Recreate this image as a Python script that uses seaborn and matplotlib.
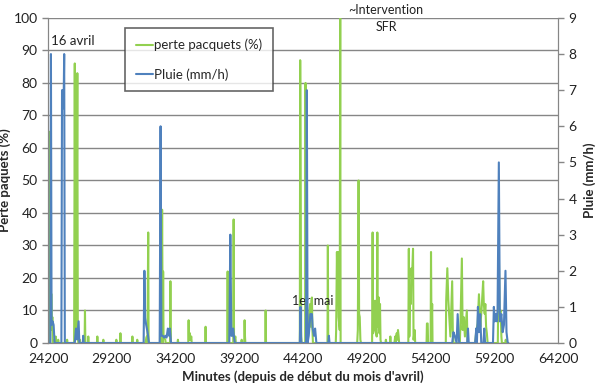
import pandas as pd
import matplotlib
matplotlib.use("Agg")
import matplotlib.pyplot as plt
import seaborn as sns

# --- données ---
perte_minutes = [
    24200, 24230, 24260, 24290, 24320, 24480, 24510, 24540, 24570, 24700, 24740,
    24770, 24800, 24830, 24970, 25000, 25030, 25670, 25700, 25730, 26250, 26300,
    26340, 26380, 26420, 26500, 26540, 26580, 26670, 26700, 26730, 27070, 27100,
    27130, 27330, 27360, 27390, 28040, 28070, 28100, 28510, 28540, 28570, 29530,
    29560, 29590, 29850, 29880, 29910, 30790, 30820, 30850, 31170, 31200, 31230,
    31850, 31880, 31950, 32000, 32060, 32090, 32980, 33050, 33100, 33150, 33200,
    33230, 33260, 33400, 33430, 33770, 33800, 33830, 34360, 34390, 34420, 35200,
    35230, 35260, 35330, 35360, 35440, 35470, 36530, 36560, 36590, 38260, 38290,
    38320, 38730, 38760, 38790, 38900, 38930, 39360, 39390, 39420, 39590, 39620,
    39650, 39680, 41240, 41270, 41300, 43950, 43980, 44020, 44060, 44100, 44380,
    44400, 44430, 44570, 44600, 44700, 44760, 44800, 44860, 44900, 44940, 44980,
    46120, 46150, 46180, 46770, 46800, 46860, 46900, 46950, 46990, 47080, 47120,
    47150, 48450, 48500, 48560, 48600, 48650, 48700, 48750, 49620, 49660, 49700,
    49780, 49850, 49900, 49980, 50030, 50070, 50150, 50200, 50240, 50280, 50320,
    50670, 50700, 50740, 51020, 51050, 51080, 51370, 51400, 51430, 51460, 51550,
    51600, 51650, 51700, 51740, 52460, 52500, 52540, 52600, 52660, 52700, 52750,
    52830, 52870, 52960, 53000, 53890, 53920, 53980, 54010, 54210, 54240, 54280,
    54330, 54360, 55400, 55430, 55520, 55600, 55700, 55760, 55900, 55950, 56000,
    56500, 56550, 56660, 56720, 56800, 56900, 57050, 57100, 57700, 57800, 57900,
    58000, 58100, 58200, 58330, 58380, 58450, 58500, 58560, 58620, 58680, 59480,
    59520, 59570, 59620, 59700, 59760, 59800, 60070, 60100, 60140, 60300,
]
perte_pct = [
    0, 36, 0, 65, 2, 15, 4, 8, 0, 1, 0,
    0, 2, 0, 0, 1, 0, 0, 1, 0, 0, 86,
    17, 12, 4, 83, 2, 0, 0, 1, 0, 0, 10,
    0, 0, 2, 0, 0, 2, 0, 0, 1, 0, 0,
    1, 0, 0, 3, 0, 0, 2, 0, 0, 1, 0,
    0, 1, 2, 0, 34, 0, 0, 37, 0, 41, 0,
    22, 2, 1, 0, 0, 19, 0, 0, 1, 0, 0,
    7, 1, 3, 1, 2, 0, 0, 5, 0, 0, 22,
    0, 0, 38, 1, 2, 0, 0, 1, 0, 0, 7,
    2, 0, 0, 10, 0, 0, 87, 42, 2, 0, 0,
    80, 0, 0, 3, 10, 12, 5, 13, 14, 4, 0,
    0, 30, 0, 0, 4, 28, 17, 28, 8, 4, 100,
    0, 0, 4, 50, 9, 8, 1, 0, 0, 34, 3,
    5, 13, 4, 2, 34, 5, 14, 3, 12, 1, 0,
    0, 1, 0, 0, 2, 0, 0, 1, 2, 0, 3,
    1, 4, 2, 0, 0, 29, 2, 17, 12, 23, 20,
    29, 1, 4, 0, 0, 6, 6, 0, 0, 28, 3,
    12, 0, 0, 13, 23, 13, 6, 2, 19, 4, 0,
    0, 6, 26, 4, 8, 2, 10, 0, 0, 4, 6,
    15, 5, 10, 19, 12, 9, 12, 5, 3, 0, 0,
    18, 25, 9, 10, 2, 0, 0, 1, 0, 0,
]

pluie_minutes = [
    24200, 24380, 24430, 24480, 24560, 24640, 24720, 25250, 25300, 25360, 25420,
    25470, 25520, 26300, 26400, 26480, 26600, 26660, 26930, 26960, 27000, 31700,
    31760, 31820, 31900, 31980, 32050, 32120, 32960, 33030, 33090, 33200, 33300,
    33400, 33500, 33600, 33700, 33760, 33850, 38420, 38500, 38580, 38650, 38720,
    38780, 38850, 43950, 44000, 44060, 44440, 44500, 44560, 44650, 44780, 44900,
    44960, 45060, 45150, 45250, 46180, 46230, 46280, 55900, 56000, 56100, 56250,
    56330, 56450, 57080, 57140, 57200, 57700, 57790, 57840, 57920, 58000, 58100,
    58180, 58350, 58420, 58480, 59100, 59170, 59240, 59330, 59400, 59460, 59560,
    59640, 59760, 59860, 59960, 60080, 60160, 60260, 60300,
]
pluie_mmh = [
    0, 0, 8.0, 0.5, 0.6, 0.5, 0, 0, 7.0, 7.0, 6.5,
    8.0, 0, 0, 0.4, 0.1, 0.6, 0, 0, 0.2, 0, 0,
    2.0, 0.7, 0.5, 0.35, 0.2, 0, 0, 6.0, 0.2, 0.2, 0.15,
    0.2, 0.15, 0.4, 0.2, 0.4, 0, 0, 3.0, 0.2, 0.2, 0.4,
    0.2, 0, 0, 1.0, 0, 0, 7.0, 0, 0.2, 0.8, 0.8,
    0.4, 0.2, 0.4, 0, 0, 0.2, 0, 0, 0.3, 0.2, 0,
    0.8, 0, 0, 0.4, 0, 0, 0.4, 0, 1.0, 0.3, 0.8,
    0, 0, 0.4, 0, 0, 1.0, 0.6, 0.8, 0.6, 0.9, 5.0,
    0.6, 0.8, 0.3, 0.5, 2.0, 0.3, 0, 0,
]

x_ticks = list(range(24200, 64201, 5000))

df_perte = pd.DataFrame({"minutes": perte_minutes, "perte": perte_pct})
df_pluie = pd.DataFrame({"minutes": pluie_minutes, "pluie": pluie_mmh})

sns.set_style("white")
plt.rcParams["font.family"] = ["Lato", "DejaVu Sans"]

vert = "#92d050"
bleu = "#4f81bd"
gris = "#868686"
texte = "#222222"

fig = plt.figure(figsize=(6, 3.9), dpi=100)
ax = fig.add_axes([0.08, 0.1205, 0.85, 0.8335])
ax2 = ax.twinx()

sns.lineplot(data=df_perte, x="minutes", y="perte", ax=ax, color=vert,
             linewidth=1.5, estimator=None, label="perte pacquets (%)", legend=False)
sns.lineplot(data=df_pluie, x="minutes", y="pluie", ax=ax2, color=bleu,
             linewidth=1.5, estimator=None, label="Pluie (mm/h)", legend=False)

ax.set_xlim(24200, 64200)
ax.set_ylim(0, 100)
ax2.set_ylim(0, 9)
ax.set_xticks(x_ticks)
ax.set_yticks(range(0, 101, 10))
ax2.set_yticks(range(0, 10))

ax.grid(axis="y", color=gris, linewidth=1)
ax.set_axisbelow(True)
for a in (ax, ax2):
    for s in a.spines.values():
        s.set_color(gris)
    a.spines["top"].set_visible(False)
    a.tick_params(colors=texte, labelsize=10, length=4, width=1,
                  color=gris, direction="out")
ax.tick_params(axis="x", pad=3)

ax.set_xlabel("Minutes (depuis de début du mois d'avril)", fontsize=9.5,
              fontweight="bold", labelpad=4)
ax.set_ylabel("Perte paquets (%)", fontsize=9.5, fontweight="bold")
ax.yaxis.set_label_coords(-0.072, 0.5)
ax2.set_ylabel("Pluie (mm/h)", fontsize=9.5, fontweight="bold", labelpad=5)

# annotations
ax.text(24460, 93, "16 avril", fontsize=9.5, va="center", ha="left", color=texte)
ax.text(47730, 102.5, "~Intervention", fontsize=9, va="center", ha="left",
        color=texte, clip_on=False)
ax.text(50730, 97.2, "SFR", fontsize=9, va="center", ha="center", color=texte)
ax.text(43330, 12.9, "1er mai", fontsize=9, va="center", ha="left", color=texte)

h1, l1 = ax.get_legend_handles_labels()
h2, l2 = ax2.get_legend_handles_labels()
leg = ax2.legend(h1 + h2, l1 + l2, loc="upper left", bbox_to_anchor=(0.151, 0.969),
                 fontsize=9.5, frameon=True, fancybox=False, handlelength=1.3,
                 handletextpad=0.1, labelspacing=1.3, borderpad=0.8,
                 borderaxespad=0)
leg.get_frame().set_edgecolor("#3f3f3f")
leg.get_frame().set_linewidth(1.2)

fig.savefig("out.png", dpi=100)
